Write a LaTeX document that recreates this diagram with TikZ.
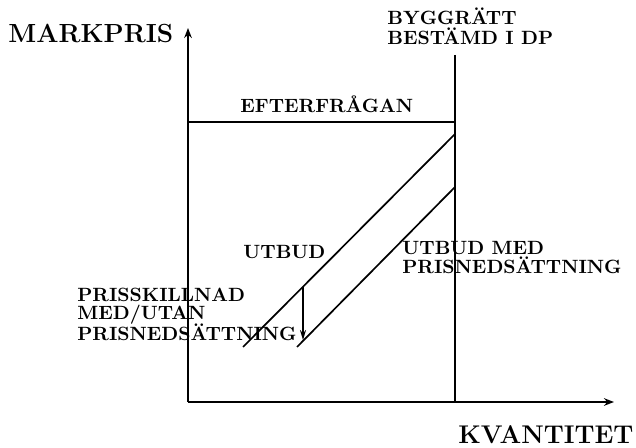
\documentclass[tikz,border=0pt]{standalone}
\usetikzlibrary{arrows.meta}
\begin{document}
\begin{tikzpicture}[x=0.5pt,y=-0.5pt,
  lbl/.style={anchor=base west,inner sep=0pt,font=\fontsize{9.6}{10}\selectfont\bfseries},
  biglbl/.style={anchor=base west,inner sep=0pt,font=\fontsize{13.1}{14}\selectfont\bfseries},
  axis/.style={line width=1.2pt,-{Stealth[length=5pt,width=3.8pt]}},
  thin/.style={line width=0.85pt}]
\useasboundingbox (0,0) rectangle (636,448);
% axes
\coordinate (O) at (188,402);
\coordinate (ytip) at (188,28);
\coordinate (xtip) at (614,402);
\draw[axis] (O) -- (ytip);
\draw[axis] (O) -- (xtip);
% building right line
\coordinate (bt) at (455,55);
\coordinate (bb) at (455,402);
\draw[thin] (bt) -- (bb);
% demand
\coordinate (d1) at (188,122);
\coordinate (d2) at (455,122);
\draw[thin] (d1) -- (d2);
% supply lines
\coordinate (s1a) at (243,347);
\coordinate (s1b) at (455,134);
\coordinate (s2a) at (297,347);
\coordinate (s2b) at (455,187);
\draw[thin] (s1a) -- (s1b);
\draw[thin] (s2a) -- (s2b);
% price difference arrow
\coordinate (pa) at (303,287);
\coordinate (pb) at (303,340);
\draw[thin,-{Stealth[length=5pt,width=3pt]}] (pa) -- (pb);
% labels
\node[biglbl] (mp) at (8,43) {MARKPRIS};
\node[lbl] (by1) at (387,25) {BYGGRÄTT};
\node[lbl] (by2) at (387,45) {BESTÄMD I DP};
\node[lbl] (ef) at (240,113) {EFTERFRÅGAN};
\node[lbl] (ut) at (243,259) {UTBUD};
\node[lbl] (ps1) at (77,301) {PRISSKILLNAD};
\node[lbl] (ps2) at (77,320) {MED/UTAN};
\node[lbl] (ps3) at (77,340) {PRISNEDSÄTTNING};
\node[lbl] (um1) at (402,255) {UTBUD MED};
\node[lbl] (um2) at (402,274) {PRISNEDSÄTTNING};
\node[biglbl,font=\fontsize{12.8}{14}\selectfont\bfseries] (kv) at (458,443) {KVANTITET};
\end{tikzpicture}
\end{document}
